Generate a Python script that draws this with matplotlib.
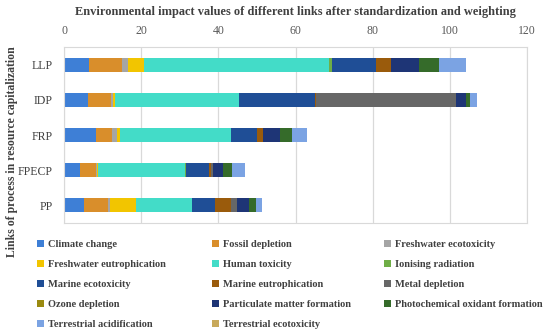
import matplotlib.pyplot as plt
import numpy as np

links = ["LLP", "IDP", "FRP", "FPECP", "PP"]
impacts = ["Climate change", "Fossil depletion", "Freshwater ecotoxicity",
           "Freshwater eutrophication", "Human toxicity", "Ionising radiation",
           "Marine ecotoxicity", "Marine eutrophication", "Metal depletion",
           "Ozone depletion", "Particulate matter formation",
           "Photochemical oxidant formation", "Terrestrial acidification",
           "Terrestrial ecotoxicity"]

# values per link, same order as impacts
llp = [6.5, 8.6, 1.5, 4.1, 47.9, 0.8, 11.4, 3.9, 0.0, 0.0, 7.2, 5.3, 6.9, 0.0]
idp = [6.2, 5.9, 0.7, 0.5, 32.0, 0.1, 19.6, 0.4, 36.1, 0.0, 2.6, 1.1, 1.9, 0.0]
frp = [8.3, 4.2, 1.2, 0.8, 28.8, 0.1, 6.5, 1.7, 0.0, 0.0, 4.4, 3.1, 4.0, 0.0]
fpecp = [4.1, 4.2, 0.3, 0.2, 22.5, 0.3, 6.0, 0.6, 0.3, 0.0, 2.6, 2.5, 3.3, 0.0]
pp = [5.2, 6.2, 0.4, 6.9, 14.4, 0.0, 6.0, 4.3, 1.5, 0.0, 3.1, 1.7, 1.7, 0.0]

colors = ["#3E7FD6", "#D98E2B", "#A5A5A5", "#F2C500", "#43DCC8", "#6FAE46",
          "#1F4E96", "#9A5B0C", "#676767", "#9A8A10", "#1E3576", "#356B2A",
          "#7BA3E3", "#C8A95A"]

data = np.array([llp, idp, frp, fpecp, pp])

serif = ["Liberation Serif", "DejaVu Serif"]
fig = plt.figure(figsize=(5.5, 3.35), dpi=100)
ax = fig.add_axes([64 / 550, 1 - 223 / 335, 463 / 550, 176 / 335])

y = np.arange(len(links))
left = np.zeros(len(links))
handles = []
for i, name in enumerate(impacts):
    b = ax.barh(y, data[:, i], left=left, height=0.4, color=colors[i], label=name)
    handles.append(b)
    left += data[:, i]

ax.set_xlim(0, 120)
ax.set_ylim(len(links) - 0.5, -0.5)
ax.set_xticks(range(0, 121, 20))
ax.xaxis.tick_top()
ax.set_yticks(y)
ax.set_yticklabels(links)
ax.tick_params(length=0, colors="#595959", labelsize=8.5)
ax.tick_params(axis="x", pad=7)
ax.tick_params(axis="y", pad=8, labelcolor="#404040", labelsize=8.5)
for lab in ax.get_xticklabels() + ax.get_yticklabels():
    lab.set_family(serif)
ax.grid(axis="x", color="#D9D9D9", linewidth=0.9)
ax.set_axisbelow(True)
for s in ax.spines.values():
    s.set_color("#D9D9D9")

fig.text(295 / 550, 1 - 12 / 335, "Environmental impact values of different links after standardization and weighting",
         ha="center", va="center", fontsize=8.9, fontweight="bold", color="#404040", family=serif)
fig.text(12 / 550, 1 - 152 / 335, "Links of process in resource capitalization", rotation=90,
         ha="center", va="center", fontsize=8.5, fontweight="bold", color="#404040", family=serif)

# legend, row-wise in three fixed columns
col_x = [28 / 550, 203 / 550, 375 / 550]
for c in range(3):
    idx = list(range(c, len(impacts), 3))
    leg = fig.legend([handles[k] for k in idx], [impacts[k] for k in idx],
                     loc="upper left", bbox_to_anchor=(col_x[c], 1 - 231 / 335),
                     frameon=False, handlelength=0.6, handleheight=0.6,
                     handletextpad=0.4, labelspacing=1.05,
                     prop={"family": serif, "weight": "bold", "size": 7.5})
    for t in leg.get_texts():
        t.set_color("#404040")

fig.savefig("out.png", dpi=100)
